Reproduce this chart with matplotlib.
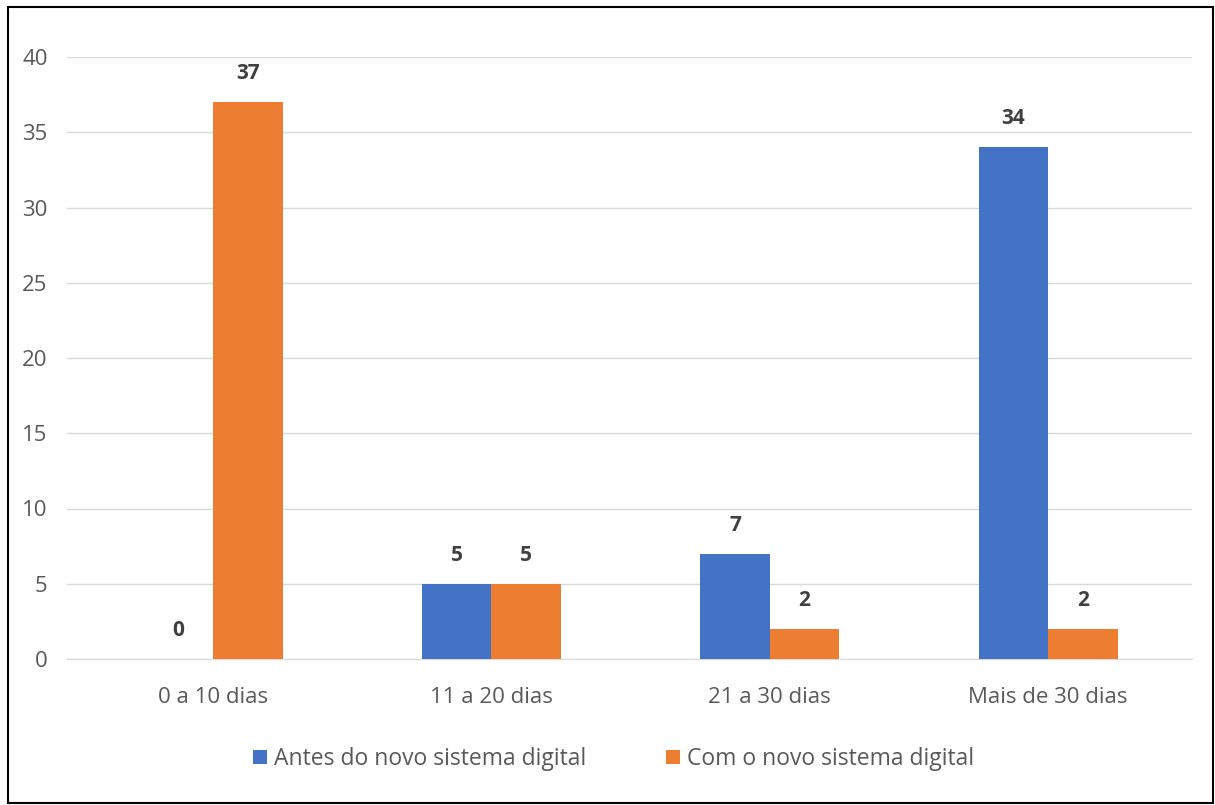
import matplotlib
matplotlib.use("Agg")
import matplotlib.pyplot as plt
from matplotlib.patches import Rectangle

categories = ["0 a 10 dias", "11 a 20 dias", "21 a 30 dias", "Mais de 30 dias"]
antes = [0, 5, 7, 34]
com = [37, 5, 2, 2]
series_names = ["Antes do novo sistema digital", "Com o novo sistema digital"]
yticks = [0, 5, 10, 15, 20, 25, 30, 35, 40]

BLUE = "#4472C4"
ORANGE = "#ED7D31"
GRAY = "#595959"

plt.rcParams['font.family'] = ['Open Sans', 'DejaVu Sans']

fig = plt.figure(figsize=(12.15, 8.05), dpi=100)
fig.patches.append(Rectangle((8/1215, 2/805), 1205/1215, 796/805, transform=fig.transFigure,
                             fill=False, edgecolor="black", linewidth=1.5))

ax = fig.add_axes([67/1215, 1 - 659/805, 1125/1215, (659 - 57)/805])
w = 0.25
x = list(range(len(categories)))
b1 = ax.bar([i - w/2 for i in x], antes, width=w, color=BLUE, label=series_names[0], zorder=3)
b2 = ax.bar([i + w/2 for i in x], com, width=w, color=ORANGE, label=series_names[1], zorder=3)

for bars, vals in ((b1, antes), (b2, com)):
    for r, v in zip(bars, vals):
        ax.annotate(str(v), (r.get_x() + r.get_width()/2, v), xytext=(0, 13),
                    textcoords="offset points", ha="center", va="bottom",
                    fontsize=15, fontweight="bold", color="#404040")

ax.set_xlim(-0.525, 3.517)
ax.set_ylim(0, 40)
ax.set_yticks(yticks)
ax.set_xticks(x)
ax.set_xticklabels(categories)
ax.grid(axis="y", color="#D9D9D9", linewidth=1, zorder=0)
for s in ["top", "right", "left"]:
    ax.spines[s].set_visible(False)
ax.spines["bottom"].set_color("#D9D9D9")
ax.tick_params(axis="both", length=0, labelsize=16, colors=GRAY)
ax.tick_params(axis="y", pad=14)
ax.tick_params(axis="x", pad=20)

leg = fig.legend(loc="center", bbox_to_anchor=(0.505, 1 - 759/805), ncol=2, frameon=False,
                 fontsize=16.5, handlelength=0.6, handleheight=0.6, handletextpad=0.3,
                 columnspacing=3.5)
for t in leg.get_texts():
    t.set_color(GRAY)

fig.savefig("out.png", dpi=100)
